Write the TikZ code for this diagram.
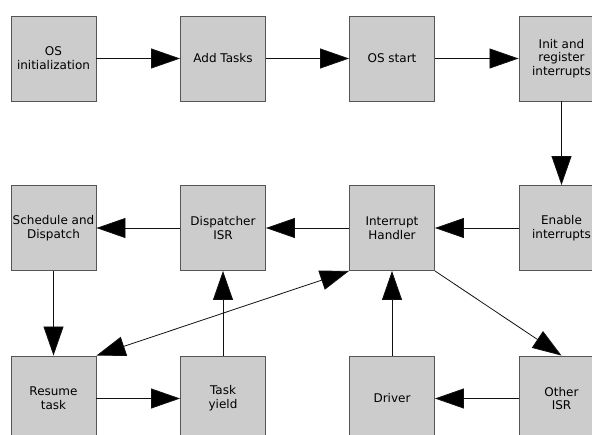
\documentclass[tikz,border=0pt]{standalone}
\usepackage{fontspec}
\setmainfont{DejaVu Sans}
\usetikzlibrary{arrows.meta}
\definecolor{boxfill}{HTML}{CCCCCC}
\definecolor{boxline}{HTML}{555555}
\definecolor{conn}{HTML}{111111}
\begin{document}
\begin{tikzpicture}[x=1pt,y=-1pt,
  box/.style={draw=boxline,fill=boxfill,line width=0.9pt,minimum width=85pt,minimum height=85pt,
    inner sep=0pt,align=center,font=\fontsize{12pt}{13.8pt}\selectfont},
  link/.style={draw=conn,line width=0.8pt,-{Triangle[length=29pt,width=20pt,fill=black]}},
  dlink/.style={draw=conn,line width=0.8pt,{Triangle[length=29pt,width=20pt,fill=black]}-{Triangle[length=29pt,width=20pt,fill=black]}}]
\useasboundingbox (0,0) rectangle (592,434);
\clip (0,0) rectangle (592,434);
\fill[white] (0,0) rectangle (592,434);
% row 1
\node[box] (osinit) at (53.5,58.5) {OS\\initialization};
\node[box] (addtasks) at (223,58.5) {Add Tasks};
\node[box] (osstart) at (392,58.5) {OS start};
\node[box] (init) at (561.5,58.5) {Init and\\register\\interrupts};
% row 2
\node[box] (sched) at (53.5,228) {Schedule and\\Dispatch};
\node[box] (disp) at (223,228) {Dispatcher\\ISR};
\node[box] (handler) at (392,228) {Interrupt\\Handler};
\node[box] (enable) at (561.5,228) {Enable\\interrupts};
% row 3
\node[box] (resume) at (53.5,398.5) {Resume\\task};
\node[box] (yield) at (223,398.5) {Task\\yield};
\node[box] (driver) at (392,398.5) {Driver};
\node[box] (other) at (561.5,398.5) {Other\\ISR};
% connectors
\draw[link] (osinit) -- (addtasks);
\draw[link] (addtasks) -- (osstart);
\draw[link] (osstart) -- (init);
\draw[link] (init) -- (enable);
\draw[link] (enable) -- (handler);
\draw[link] (handler) -- (disp);
\draw[link] (disp) -- (sched);
\draw[link] (sched) -- (resume);
\draw[dlink] (handler.south west) -- (resume.north east);
\draw[link] (resume) -- (yield);
\draw[link] (yield) -- (disp);
\draw[link] (driver) -- (handler);
\draw[link] (handler.south east) -- (other.north);
\draw[link] (other) -- (driver);
\end{tikzpicture}
\end{document}
